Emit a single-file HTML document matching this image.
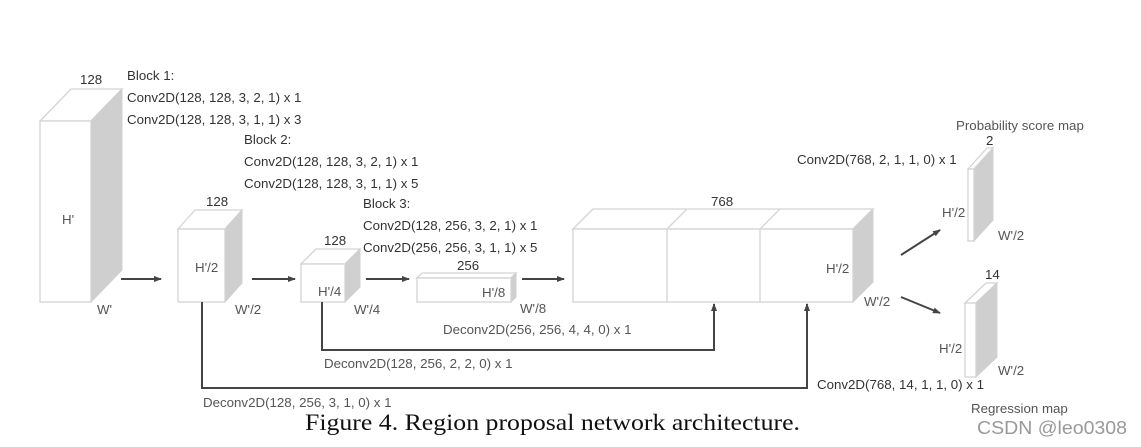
<!DOCTYPE html>
<html><head><meta charset="utf-8"><style>
body{margin:0;background:#fff;}
svg{display:block}
text{font-family:"Liberation Sans",sans-serif;font-size:13.3px;fill:#333}
.f{fill:#fff;stroke:#d4d4d4;stroke-width:1.3}
.s{fill:#cfcfcf;stroke:#d0d0d0;stroke-width:1}
.l{stroke:#444;stroke-width:2;fill:none}
.g{fill:#555}
</style></head><body>
<svg width="1141" height="447" viewBox="0 0 1141 447">
<defs><marker id="a" markerWidth="8" markerHeight="8" refX="7" refY="4" orient="auto" markerUnits="userSpaceOnUse"><path d="M0,1 L8,4 L0,7 z" fill="#444"/></marker></defs>
<polygon class="f" points="40,121 71,89 122,89 91,121"/>
<polygon class="s" points="91,121 122,89 122,270 91,302"/>
<rect class="f" x="40" y="121" width="51" height="181"/>
<text x="80" y="84">128</text>
<text x="62" y="224" class="g">H'</text>
<text x="97" y="314" class="g">W'</text>
<polygon class="f" points="178,229 195,210 242,210 225,229"/>
<polygon class="s" points="225,229 242,210 242,283 225,302"/>
<rect class="f" x="178" y="229" width="47" height="73"/>
<text x="206" y="206">128</text>
<text x="195" y="272" class="g">H'/2</text>
<text x="235" y="314" class="g">W'/2</text>
<polygon class="f" points="301,264 316,249 360,249 345,264"/>
<polygon class="s" points="345,264 360,249 360,287 345,302"/>
<rect class="f" x="301" y="264" width="44" height="38"/>
<text x="324" y="245">128</text>
<text x="318" y="296" class="g">H'/4</text>
<text x="354" y="314" class="g">W'/4</text>
<polygon class="f" points="417,278 422,273 516,273 511,278"/>
<polygon class="s" points="511,278 516,273 516,297 511,302"/>
<rect class="f" x="417" y="278" width="94" height="24"/>
<text x="457" y="270">256</text>
<text x="482" y="297" class="g">H'/8</text>
<text x="520" y="313" class="g">W'/8</text>
<polygon class="f" points="573,229 593,209 873,209 853,229"/>
<line x1="667" y1="229" x2="687" y2="209" stroke="#d4d4d4" stroke-width="1.3"/>
<line x1="760" y1="229" x2="780" y2="209" stroke="#d4d4d4" stroke-width="1.3"/>
<polygon class="s" points="853,229 873,209 873,282 853,302"/>
<rect class="f" x="573" y="229" width="280" height="73"/>
<line x1="667" y1="229" x2="667" y2="302" stroke="#d4d4d4" stroke-width="1.3"/>
<line x1="760" y1="229" x2="760" y2="302" stroke="#d4d4d4" stroke-width="1.3"/>
<text x="711" y="206">768</text>
<text x="826" y="273" class="g">H'/2</text>
<text x="864" y="306" class="g">W'/2</text>
<polygon class="f" points="968,169 987,148 993,148 974,169"/>
<polygon class="s" points="974,169 993,148 993,220 974,241"/>
<rect class="f" x="968" y="169" width="6" height="72"/>
<text x="956" y="130" class="g">Probability score map</text>
<text x="986" y="145">2</text>
<text x="797" y="164">Conv2D(768, 2, 1, 1, 0) x 1</text>
<text x="942" y="217" class="g">H'/2</text>
<text x="998" y="240" class="g">W'/2</text>
<polygon class="f" points="965,303 986,283 997,283 976,303"/>
<polygon class="s" points="976,303 997,283 997,357 976,377"/>
<rect class="f" x="965" y="303" width="11" height="74"/>
<text x="985" y="279">14</text>
<text x="939" y="353" class="g">H'/2</text>
<text x="998" y="375" class="g">W'/2</text>
<text x="817" y="389">Conv2D(768, 14, 1, 1, 0) x 1</text>
<text x="971" y="413" class="g">Regression map</text>
<line class="l" x1="121" y1="279" x2="161" y2="279" marker-end="url(#a)"/>
<line class="l" x1="252" y1="279" x2="295" y2="279" marker-end="url(#a)"/>
<line class="l" x1="366" y1="279" x2="409" y2="279" marker-end="url(#a)"/>
<line class="l" x1="522" y1="279" x2="564" y2="279" marker-end="url(#a)"/>
<line class="l" x1="901" y1="255" x2="940" y2="230" marker-end="url(#a)"/>
<line class="l" x1="901" y1="297" x2="940" y2="313" marker-end="url(#a)"/>
<polyline class="l" points="202,302 202,388 807,388 807,304" marker-end="url(#a)"/>
<polyline class="l" points="322,302 322,350 714,350 714,304" marker-end="url(#a)"/>
<text x="127" y="80">Block 1:</text>
<text x="127" y="102">Conv2D(128, 128, 3, 2, 1) x 1</text>
<text x="127" y="124">Conv2D(128, 128, 3, 1, 1) x 3</text>
<text x="244" y="144">Block 2:</text>
<text x="244" y="166">Conv2D(128, 128, 3, 2, 1) x 1</text>
<text x="244" y="188">Conv2D(128, 128, 3, 1, 1) x 5</text>
<text x="363" y="208">Block 3:</text>
<text x="363" y="230">Conv2D(128, 256, 3, 2, 1) x 1</text>
<text x="363" y="252">Conv2D(256, 256, 3, 1, 1) x 5</text>
<text x="443" y="334" class="g">Deconv2D(256, 256, 4, 4, 0) x 1</text>
<text x="324" y="368" class="g">Deconv2D(128, 256, 2, 2, 0) x 1</text>
<text x="203" y="407" class="g">Deconv2D(128, 256, 3, 1, 0) x 1</text>
<text x="305" y="430" textLength="495" lengthAdjust="spacingAndGlyphs" style="font-family:'Liberation Serif',serif;font-size:23px;fill:#111">Figure 4. Region proposal network architecture.</text>
<text x="977" y="434" textLength="150" lengthAdjust="spacingAndGlyphs" style="font-size:18px;fill:#999">CSDN @leo0308</text>
</svg>
</body></html>
